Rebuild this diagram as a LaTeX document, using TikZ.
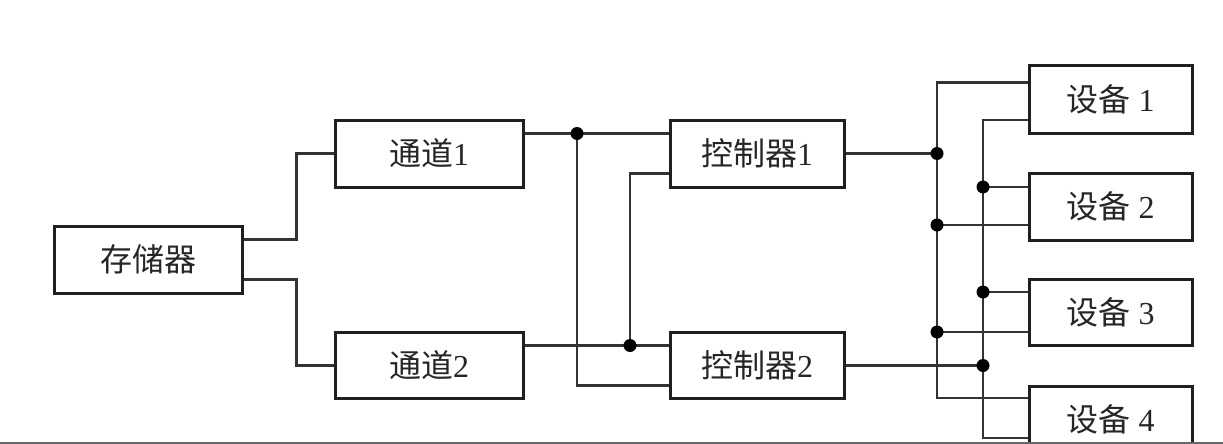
\documentclass[tikz,border=0pt]{standalone}
\usepackage{fontspec}
\setmainfont{Liberation Serif}
\newfontfamily\cjk{Noto Sans CJK SC}
\begin{document}
\begin{tikzpicture}[x=1pt,y=-1pt,
  box/.style={draw=black!88, line width=3pt, fill=white, inner sep=0pt,
    font=\fontsize{32}{36}\selectfont, text=black!85},
  wire/.style={line width=2.2pt, draw=black!80},
  dot/.style={circle, fill=black, inner sep=0pt, minimum size=13pt},
  band/.style={fill=black!80!blue!20!gray}]
\useasboundingbox (0,0) rectangle (1223,444);
\begin{scope}
\clip (0,0) rectangle (1223,444);
\fill[white] (0,0) rectangle (1223,444);
% boxes
\node[box, minimum width=188pt, minimum height=67pt] (mem) at (148,259.5) {{\cjk 存储器}};
\node[box, minimum width=188pt, minimum height=67pt] (ch1) at (429,153.5) {{\cjk 通道}1};
\node[box, minimum width=188pt, minimum height=66pt] (ch2) at (429,365.5) {{\cjk 通道}2};
\node[box, minimum width=174pt, minimum height=67pt] (ct1) at (757,153.5) {{\cjk 控制器}1};
\node[box, minimum width=174pt, minimum height=66pt] (ct2) at (757,365.5) {{\cjk 控制器}2};
\node[box, minimum width=163pt, minimum height=67pt] (dev1) at (1110.5,99.5) {{\cjk 设备} 1};
\node[box, minimum width=163pt, minimum height=67pt] (dev2) at (1110.5,206.5) {{\cjk 设备} 2};
\node[box, minimum width=163pt, minimum height=66pt] (dev3) at (1110.5,312) {{\cjk 设备} 3};
\node[box, minimum width=163pt, minimum height=66pt] (dev4) at (1110.5,419) {{\cjk 设备} 4};
% bus and junction columns
\coordinate (c1) at (577,0);
\coordinate (c2) at (630,0);
\coordinate (b1) at (937,0);
\coordinate (b2) at (983,0);
% ports
\coordinate (q1) at ([yshift=20]ch1.east);
\coordinate (q2) at ([yshift=20]ch2.east);
\coordinate (p1a) at ([yshift=17]dev1.west);
\coordinate (p1b) at ([yshift=-20.5]dev1.west);
\coordinate (p2a) at ([yshift=19.5]dev2.west);
\coordinate (p2b) at ([yshift=-18.5]dev2.west);
\coordinate (p3a) at ([yshift=20]dev3.west);
\coordinate (p3b) at ([yshift=-20]dev3.west);
\coordinate (p4a) at ([yshift=21]dev4.west);
\coordinate (p4b) at ([yshift=-19]dev4.west);
% memory to channels
\draw[wire] ([yshift=20]mem.east) -- ++(53,0) |- (ch1.west);
\draw[wire] ([yshift=-20]mem.east) -- ++(53,0) |- (ch2.west);
% channels to controllers
\draw[wire] (q1) -- ([yshift=20]ct1.west);
\draw[wire] (q2) -- ([yshift=20]ct2.west);
\draw[wire] (c1 |- q1) |- ([yshift=-20]ct2.west);
\draw[wire] (c2 |- q2) |- ([yshift=-20]ct1.west);
% controllers to buses
\draw[wire] (ct1.east) -- (b1 |- ct1.east);
\draw[wire] (ct2.east) -- (b2 |- ct2.east);
% buses to devices
\draw[wire] (p1a) -| (b1 |- p4a) -- (p4a);
\draw[wire] (p1b) -| (b2 |- p4b) -- (p4b);
\draw[wire] (p2a) -- (b2 |- p2a);
\draw[wire] (p2b) -- (b1 |- p2b);
\draw[wire] (p3a) -- (b2 |- p3a);
\draw[wire] (p3b) -- (b1 |- p3b);
% junction dots
\node[dot] (k1) at (c1 |- q1) {};
\node[dot] (k2) at (c2 |- q2) {};
\node[dot] (k3) at (b1 |- ct1.east) {};
\node[dot] (k4) at (b2 |- ct2.east) {};
\node[dot] (k5) at (b2 |- p2a) {};
\node[dot] (k6) at (b1 |- p2b) {};
\node[dot] (k7) at (b2 |- p3a) {};
\node[dot] (k8) at (b1 |- p3b) {};
% bottom band
\fill[band] (0,441.5) rectangle (1223,444);
\end{scope}
\end{tikzpicture}
\end{document}
